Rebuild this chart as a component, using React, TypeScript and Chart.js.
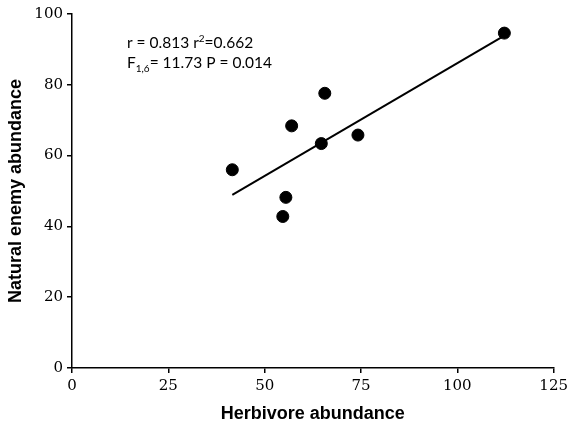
import React, { useEffect, useRef } from "react";
import { Chart, registerables } from "chart.js";

Chart.register(...registerables);

const herbivore = [41.6, 55.5, 54.7, 57.0, 65.6, 64.7, 74.2, 112.2];
const naturalEnemy = [56.0, 48.2, 42.8, 68.4, 77.6, 63.4, 65.8, 94.6];
const fitX = [41.6, 112.2];
const fitY = [48.9, 93.9];
const xTicks = [0, 25, 50, 75, 100, 125];
const yTicks = [0, 20, 40, 60, 80, 100];

const annotationPlugin = {
  id: "annot",
  afterDraw(chart: any) {
    const ctx = chart.ctx;
    ctx.save();
    ctx.fillStyle = "#000";
    ctx.textBaseline = "alphabetic";
    ctx.textAlign = "left";
    const font = "15.5px Lato";
    const small = "10px Lato";
    let x = 127;
    let y = 48;
    const seg = (t: string, f: string, dy: number) => {
      ctx.font = f;
      ctx.fillText(t, x, y + dy);
      x += ctx.measureText(t).width;
    };
    seg("r = 0.813 r", font, 0);
    seg("2", small, -6);
    seg("=0.662", font, 0);
    x = 127;
    y = 68;
    seg("F", font, 0);
    seg("1,6", small, 4);
    seg("= 11.73 P = 0.014", font, 0);
    ctx.restore();
  },
};

export default function App() {
  const ref = useRef<HTMLCanvasElement>(null);
  useEffect(() => {
    const chart = new Chart(ref.current!, {
      type: "scatter",
      data: {
        datasets: [
          {
            type: "scatter",
            data: herbivore.map((v, i) => ({ x: v, y: naturalEnemy[i] })),
            backgroundColor: "#000",
            borderColor: "#000",
            pointRadius: 6,
          },
          {
            type: "line",
            data: fitX.map((v, i) => ({ x: v, y: fitY[i] })),
            borderColor: "#000",
            borderWidth: 2,
            pointRadius: 0,
            fill: false,
          } as any,
        ],
      },
      options: {
        animation: false,
        responsive: false,
        layout: { padding: { top: 14, right: 17, left: 0, bottom: 0 } },
        plugins: { legend: { display: false }, tooltip: { enabled: false } },
        scales: {
          x: {
            type: "linear",
            min: 0,
            max: 125,
            afterBuildTicks: (s: any) => {
              s.ticks = xTicks.map((v) => ({ value: v }));
            },
            afterFit: (s: any) => {
              s.height = 57;
            },
            grid: { drawOnChartArea: false, color: "#000", tickLength: 5, lineWidth: 1.5 },
            border: { color: "#000", width: 1.5 },
            ticks: { color: "#000", font: { family: "DejaVu Serif", size: 15 }, padding: 4, maxRotation: 0 },
            title: {
              display: true,
              text: "Herbivore abundance",
              color: "#000",
              font: { family: "Liberation Sans", size: 18, weight: "bold" },
              padding: { top: 4, bottom: 0 },
            },
          },
          y: {
            type: "linear",
            min: 0,
            max: 100,
            afterBuildTicks: (s: any) => {
              s.ticks = yTicks.map((v) => ({ value: v }));
            },
            afterFit: (s: any) => {
              s.width = 72;
            },
            grid: { drawOnChartArea: false, color: "#000", tickLength: 5, lineWidth: 1.5 },
            border: { color: "#000", width: 1.5 },
            ticks: { color: "#000", font: { family: "DejaVu Serif", size: 15 }, padding: 4 },
            title: {
              display: true,
              text: "Natural enemy abundance",
              color: "#000",
              font: { family: "Liberation Sans", size: 18, weight: "bold" },
              padding: { top: 5, bottom: 0 },
            },
          },
        },
      },
      plugins: [annotationPlugin],
    });
    return () => chart.destroy();
  }, []);
  return (
    <div style={{ position: "absolute", left: 0, top: 0, width: 572, height: 425, background: "#fff" }}>
      <canvas ref={ref} width={572} height={425} style={{ width: 572, height: 425 }} />
    </div>
  );
}
